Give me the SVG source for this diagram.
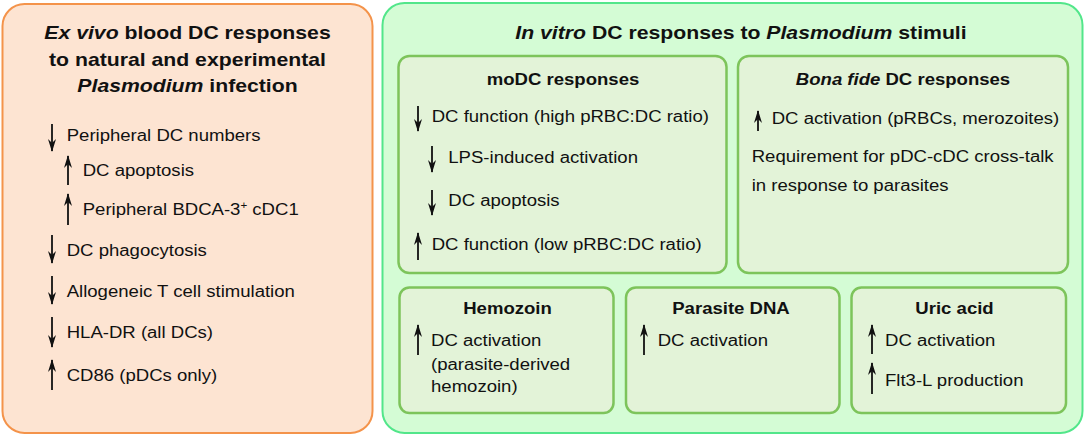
<svg xmlns="http://www.w3.org/2000/svg" width="1084" height="437" viewBox="0 0 1084 437">
<style>
text{font-family:"Liberation Sans",Arial,sans-serif;fill:#111}
.t{font-size:18.3px;font-weight:bold;text-anchor:middle}
.s{font-size:16px;font-weight:bold;text-anchor:middle}
.b{font-size:16px}
.i{font-style:italic}
.left{fill:#fde4d2;stroke:#f4934a;stroke-width:2}
.outer{fill:#d4fcd5;stroke:#52e68a;stroke-width:2}
.inner{fill:#e3f3d8;stroke:#7dc45b;stroke-width:2.5}
.arr{stroke:#111;stroke-width:1.8;fill:none;marker-end:url(#ah)}
</style>
<defs>
<marker id="ah" markerUnits="userSpaceOnUse" markerWidth="13" markerHeight="9" refX="12" refY="4.5" orient="auto">
<path d="M0,0.5 L13,4.5 L0,8.5 L4,4.5 Z" fill="#111"/>
</marker>
</defs>

<g id="exvivo">
<rect class="left" x="2.5" y="4" width="370" height="429" rx="22"/>
<text class="t" transform="translate(187.5 39) scale(1.16 1)"><tspan class="i">Ex vivo</tspan> blood DC responses</text>
<text class="t" transform="translate(187.5 66) scale(1.16 1)">to natural and experimental</text>
<text class="t" transform="translate(187.5 92) scale(1.16 1)"><tspan class="i">Plasmodium</tspan> infection</text>
<text class="b" transform="translate(66.7 141) scale(1.16 1)">Peripheral DC numbers</text>
<text class="b" transform="translate(82.7 176) scale(1.16 1)">DC apoptosis</text>
<text class="b" transform="translate(82.7 215) scale(1.16 1)">Peripheral BDCA-3<tspan font-size="10" dy="-6">+</tspan><tspan dy="6"> cDC1</tspan></text>
<text class="b" transform="translate(66.7 256) scale(1.16 1)">DC phagocytosis</text>
<text class="b" transform="translate(66.7 297) scale(1.16 1)">Allogeneic T cell stimulation</text>
<text class="b" transform="translate(66.7 338) scale(1.16 1)">HLA-DR (all DCs)</text>
<text class="b" transform="translate(66.7 381) scale(1.16 1)">CD86 (pDCs only)</text>
</g>

<g id="invitro">
<rect class="outer" x="382.5" y="3" width="700" height="430" rx="22"/>
<text class="t" transform="translate(741 39) scale(1.16 1)"><tspan class="i">In vitro</tspan> DC responses to <tspan class="i">Plasmodium</tspan> stimuli</text>
</g>

<g id="modc">
<rect class="inner" x="398.5" y="56" width="328" height="217" rx="11"/>
<text class="s" transform="translate(563 85) scale(1.16 1)">moDC responses</text>
<text class="b" transform="translate(431.7 122) scale(1.16 1)">DC function (high pRBC:DC ratio)</text>
<text class="b" transform="translate(448.3 163) scale(1.16 1)">LPS-induced activation</text>
<text class="b" transform="translate(448.3 206) scale(1.16 1)">DC apoptosis</text>
<text class="b" transform="translate(431.7 249.5) scale(1.16 1)">DC function (low pRBC:DC ratio)</text>
</g>

<g id="bonafide">
<rect class="inner" x="738" y="56" width="330" height="217" rx="11"/>
<text class="s" transform="translate(903 85) scale(1.16 1)"><tspan class="i">Bona fide</tspan> DC responses</text>
<text class="b" transform="translate(771.7 123.5) scale(1.16 1)">DC activation (pRBCs, merozoites)</text>
<text class="b" transform="translate(751.7 162) scale(1.16 1)">Requirement for pDC-cDC cross-talk</text>
<text class="b" transform="translate(751.7 191) scale(1.16 1)">in response to parasites</text>
</g>

<g id="hemozoin">
<rect class="inner" x="399.5" y="287.5" width="214" height="125.5" rx="10"/>
<text class="s" transform="translate(507.5 313.5) scale(1.16 1)">Hemozoin</text>
<text class="b" transform="translate(431 346) scale(1.16 1)">DC activation</text>
<text class="b" transform="translate(431 370) scale(1.16 1)">(parasite-derived</text>
<text class="b" transform="translate(431 392) scale(1.16 1)">hemozoin)</text>
</g>

<g id="parasitedna">
<rect class="inner" x="626" y="287.5" width="213.5" height="125.5" rx="10"/>
<text class="s" transform="translate(731 313.5) scale(1.16 1)">Parasite DNA</text>
<text class="b" transform="translate(657.7 346) scale(1.16 1)">DC activation</text>
</g>

<g id="uricacid">
<rect class="inner" x="851.5" y="287.5" width="214.5" height="125.5" rx="10"/>
<text class="s" transform="translate(954.5 313.5) scale(1.16 1)">Uric acid</text>
<text class="b" transform="translate(885 346) scale(1.16 1)">DC activation</text>
<text class="b" transform="translate(885 385.5) scale(1.16 1)">Flt3-L production</text>
</g>

<g id="connectors">
<path class="arr" d="M52 124 V151"/>
<path class="arr" d="M68 185 V156"/>
<path class="arr" d="M68 225 V194"/>
<path class="arr" d="M52 235 V263"/>
<path class="arr" d="M52 276 V304"/>
<path class="arr" d="M52 317 V347"/>
<path class="arr" d="M52 390 V360"/>
<path class="arr" d="M418 106 V131"/>
<path class="arr" d="M432 146 V172"/>
<path class="arr" d="M432 190 V215"/>
<path class="arr" d="M418 260 V233"/>
<path class="arr" d="M758 131 V111"/>
<path class="arr" d="M418 355 V325"/>
<path class="arr" d="M644 355 V325"/>
<path class="arr" d="M872 354 V325"/>
<path class="arr" d="M872 394 V363"/>
</g>
</svg>
